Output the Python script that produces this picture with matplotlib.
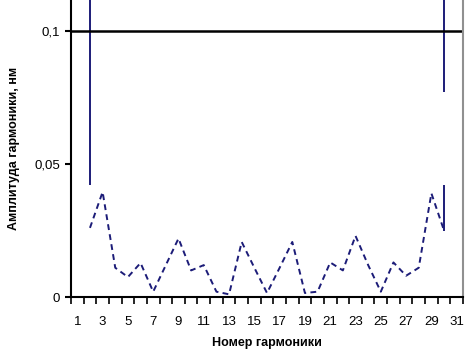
import numpy as np
import matplotlib
matplotlib.use("Agg")
import matplotlib.pyplot as plt

# harmonic numbers (category axis) and amplitudes, nm
harmonics = np.arange(1, 32)
dash_harm = np.arange(2, 31)
dash_amp = [0.026, 0.0395, 0.011, 0.0075, 0.0128, 0.002, 0.012, 0.022,
            0.010, 0.012, 0.002, 0.001, 0.0207, 0.011, 0.0015, 0.011,
            0.0207, 0.0015, 0.002, 0.013, 0.010, 0.023, 0.012, 0.002,
            0.013, 0.008, 0.011, 0.039, 0.025]

# vertical solid spikes (go off the top of the chart)
spike_harm = [2, 30, 30]
spike_top = [0.115, 0.115, 0.042]
spike_bottom = [0.042, 0.077, 0.025]

limit_level = 0.1
ytick_vals = [0, 0.05, 0.1]
ytick_text = ["0", "0,05", "0,1"]
xtick_vals = list(range(1, 32, 2))
xtick_text = [str(v) for v in xtick_vals]

plt.rcParams['font.family'] = ['Liberation Sans', 'DejaVu Sans']

fig = plt.figure(figsize=(4.73, 3.58), dpi=100)
ax = fig.add_axes([71 / 473, 1 - 297 / 358, 392 / 473, 297 / 358])

navy = "#1c1c78"
ax.plot(dash_harm, dash_amp, color=navy, linestyle=(0, (3, 2.2)), linewidth=1.4)
ax.vlines(spike_harm, spike_bottom, spike_top, color=navy, linewidth=1.4)
ax.axhline(limit_level, color="black", linewidth=1.8)

ax.set_xlim(0.5, 31.5)
ax.set_ylim(0, 0.1117)

ax.set_xticks(xtick_vals)
ax.set_xticklabels(xtick_text, fontsize=9.5)
ax.set_xticks(np.arange(0.5, 32, 1), minor=True)
ax.tick_params(axis="x", which="major", length=0, pad=14)
ax.tick_params(axis="x", which="minor", length=5, width=1.2, direction="out")

ax.set_yticks(ytick_vals)
ax.set_yticklabels(ytick_text, fontsize=9.5)
ax.tick_params(axis="y", length=4, width=1.5, direction="out", pad=4)

ax.spines["top"].set_visible(False)
ax.spines["right"].set_color("#909090")
ax.spines["right"].set_linewidth(1.5)
ax.spines["left"].set_linewidth(1.5)
ax.spines["bottom"].set_linewidth(1.5)

ax.set_xlabel("Номер гармоники", fontsize=9, fontweight="bold", labelpad=6)
ax.set_ylabel("Амплитуда гармоники, нм", fontsize=9, fontweight="bold", labelpad=10)

fig.savefig("out.png", dpi=100)
